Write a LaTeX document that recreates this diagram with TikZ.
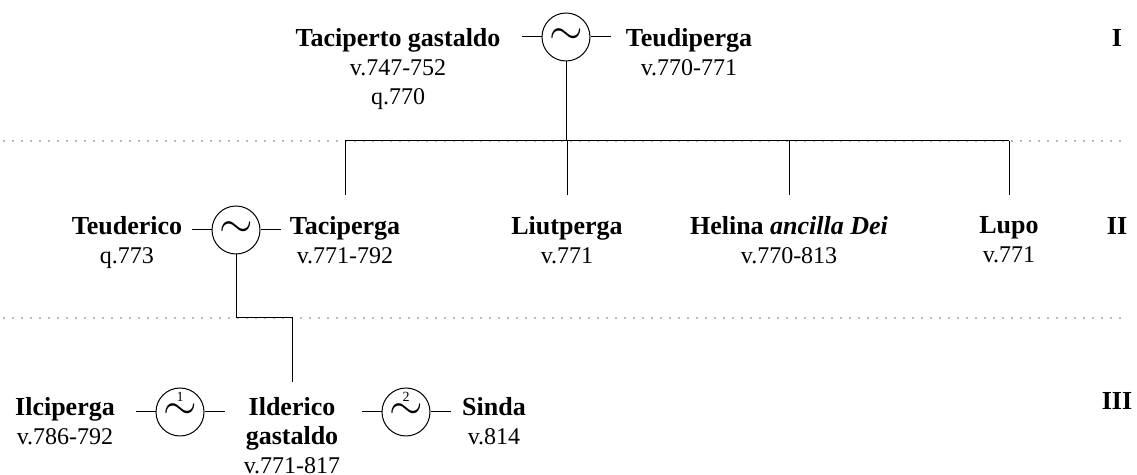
\documentclass[tikz,border=0pt]{standalone}
\usepackage{amsmath}
\usepackage{graphicx}
\usepackage{fontspec}
\setmainfont{Liberation Serif}
\usepackage{tikz}
\usetikzlibrary{positioning, calc}
\newcommand{\pname}[1]{{\fontsize{13}{14.5}\selectfont\bfseries #1}}
\newcommand{\wedsign}{\scalebox{1.8}{$\sim$}}

\begin{document}
\begin{tikzpicture}[
        x=0.5pt, y=-0.5pt,
        person/.style={align=center, inner sep=0pt, anchor=north, font=\fontsize{12}{14.5}\selectfont, execute at begin node=\strut},
        gen/.style={inner sep=0pt, anchor=base, font=\fontsize{13}{14.5}\selectfont\bfseries},
        marriage/.style={circle, draw, line width=0.5pt, minimum size=24pt, inner sep=0pt, font=\fontsize{12}{12}\selectfont},
        numbered/.style={label={[inner sep=0pt, anchor=south, font=\fontsize{7}{7}\selectfont, yshift=-7pt]north:#1}},
        sepline/.style={gray!55, line width=1pt, dash pattern=on 1pt off 3.5pt},
        kin/.style={line width=0.5pt}
    ]
        \useasboundingbox (0,0) rectangle (1137,475);

        % Generations
        \node[gen] (numI) at (1117,47) {I};
        \node[gen] (numII) at (1117,235) {II};
        \node[gen] (numIII) at (1117,410) {III};
        \coordinate (sep1) at (3,141);
        \coordinate (sep2) at (3,318);
        \draw[sepline] (sep1) -- (sep1 -| numI.east);
        \draw[sepline] (sep2) -- (sep2 -| numI.east);

        % Generation I (first line baseline at 48)
        \node[person] (taciperto) at (398,28) {\pname{Taciperto gastaldo}\\v.747-752\\q.770};
        \node[person] (teudiperga) at (689,28) {\pname{Teudiperga}\\v.770-771};
        \node[marriage] (m1) at (566,37) {\wedsign};

        % Generation II (baseline at 236)
        \node[person] (teuderico) at (127,216) {\pname{Teuderico}\\q.773};
        \node[person] (taciperga) at (345,216) {\pname{Taciperga}\\v.771-792};
        \node[person] (liutperga) at (567,216) {\pname{Liutperga}\\v.771};
        \node[person] (helina) at (789,216) {\pname{Helina \textit{ancilla Dei}}\\v.770-813};
        \node[person] (lupo) at (1009,216) {\pname{Lupo}\\v.771};
        \node[marriage] (m2) at (236,230) {\wedsign};

        % Generation III (baseline at 417)
        \node[person] (ilciperga) at (65,397) {\pname{Ilciperga}\\v.786-792};
        \node[person] (ilderico) at (292,397) {\pname{Ilderico}\\\pname{gastaldo}\\v.771-817};
        \node[person] (sinda) at (494,397) {\pname{Sinda}\\v.814};
        \node[marriage, numbered=1] (m3) at (180,412) {\wedsign};
        \node[marriage, numbered=2] (m4) at (406,412) {\wedsign};

        % Marriage stubs
        \foreach \m in {m1, m2, m3, m4}
            \draw[kin] (\m.west) -- ++(-20,0) (\m.east) -- ++(20,0);

        % Descent
        \draw[kin] (m1.south) -- (m1.south |- sep1);
        \draw[kin] (taciperga.north |- sep1) -- (lupo.north |- sep1);
        \foreach \c in {taciperga, liutperga, helina, lupo}
            \draw[kin, shorten >=10.5pt] (\c.north |- sep1) -- (\c.north);
        \draw[kin, shorten >=7.5pt] (m2.south) -- (m2.south |- sep2) -| (ilderico.north);
    \end{tikzpicture}
\end{document}
